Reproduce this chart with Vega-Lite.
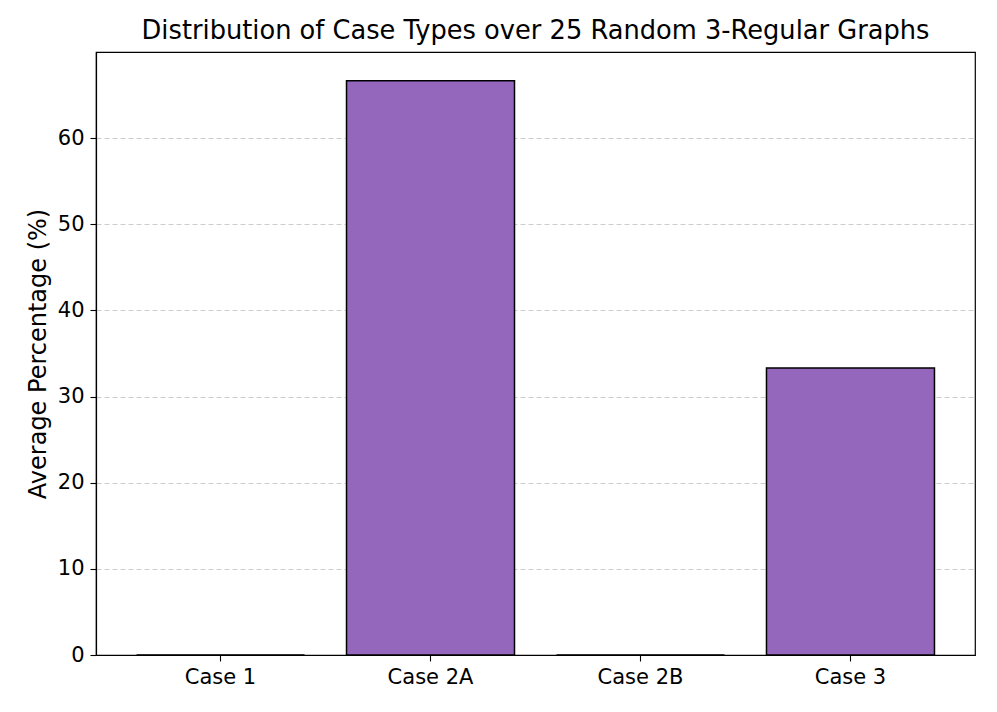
{
  "$schema": "https://vega.github.io/schema/vega-lite/v6.json",
  "width": 879,
  "height": 603,
  "autosize": {"type": "none"},
  "padding": {"left": 96, "top": 52, "right": 22, "bottom": 57},
  "background": "white",
  "title": {
    "text": "Distribution of Case Types over 25 Random 3-Regular Graphs",
    "font": "DejaVu Sans",
    "fontSize": 25.7,
    "fontWeight": "normal",
    "color": "black",
    "anchor": "middle",
    "offset": 7
  },
  "config": {
    "view": {"stroke": "black", "strokeWidth": 1.2},
    "axis": {
      "labelFont": "DejaVu Sans",
      "titleFont": "DejaVu Sans",
      "labelColor": "black",
      "titleColor": "black",
      "domainColor": "black",
      "tickColor": "black",
      "labelFontSize": 21,
      "titleFontSize": 24,
      "titleFontWeight": "normal",
      "tickSize": 6,
      "tickWidth": 1.1,
      "domainWidth": 1.2
    }
  },
  "data": {
    "values": [
      {"case": "Case 1", "pct": 0},
      {"case": "Case 2A", "pct": 66.67},
      {"case": "Case 2B", "pct": 0},
      {"case": "Case 3", "pct": 33.33}
    ]
  },
  "mark": {"type": "bar", "fill": "#9467bd", "stroke": "black", "strokeWidth": 1.5},
  "encoding": {
    "x": {
      "field": "case",
      "type": "nominal",
      "sort": null,
      "scale": {"paddingInner": 0.2, "paddingOuter": 0.193},
      "axis": {"title": null, "labelAngle": 0, "labelPadding": 5, "grid": false}
    },
    "y": {
      "field": "pct",
      "type": "quantitative",
      "scale": {"domain": [0, 70], "nice": false},
      "axis": {
        "title": "Average Percentage (%)",
        "values": [0, 10, 20, 30, 40, 50, 60],
        "grid": true,
        "gridColor": "#cccccc",
        "gridDash": [5, 3],
        "gridWidth": 1,
        "labelPadding": 6,
        "titlePadding": 7
      }
    }
  }
}
